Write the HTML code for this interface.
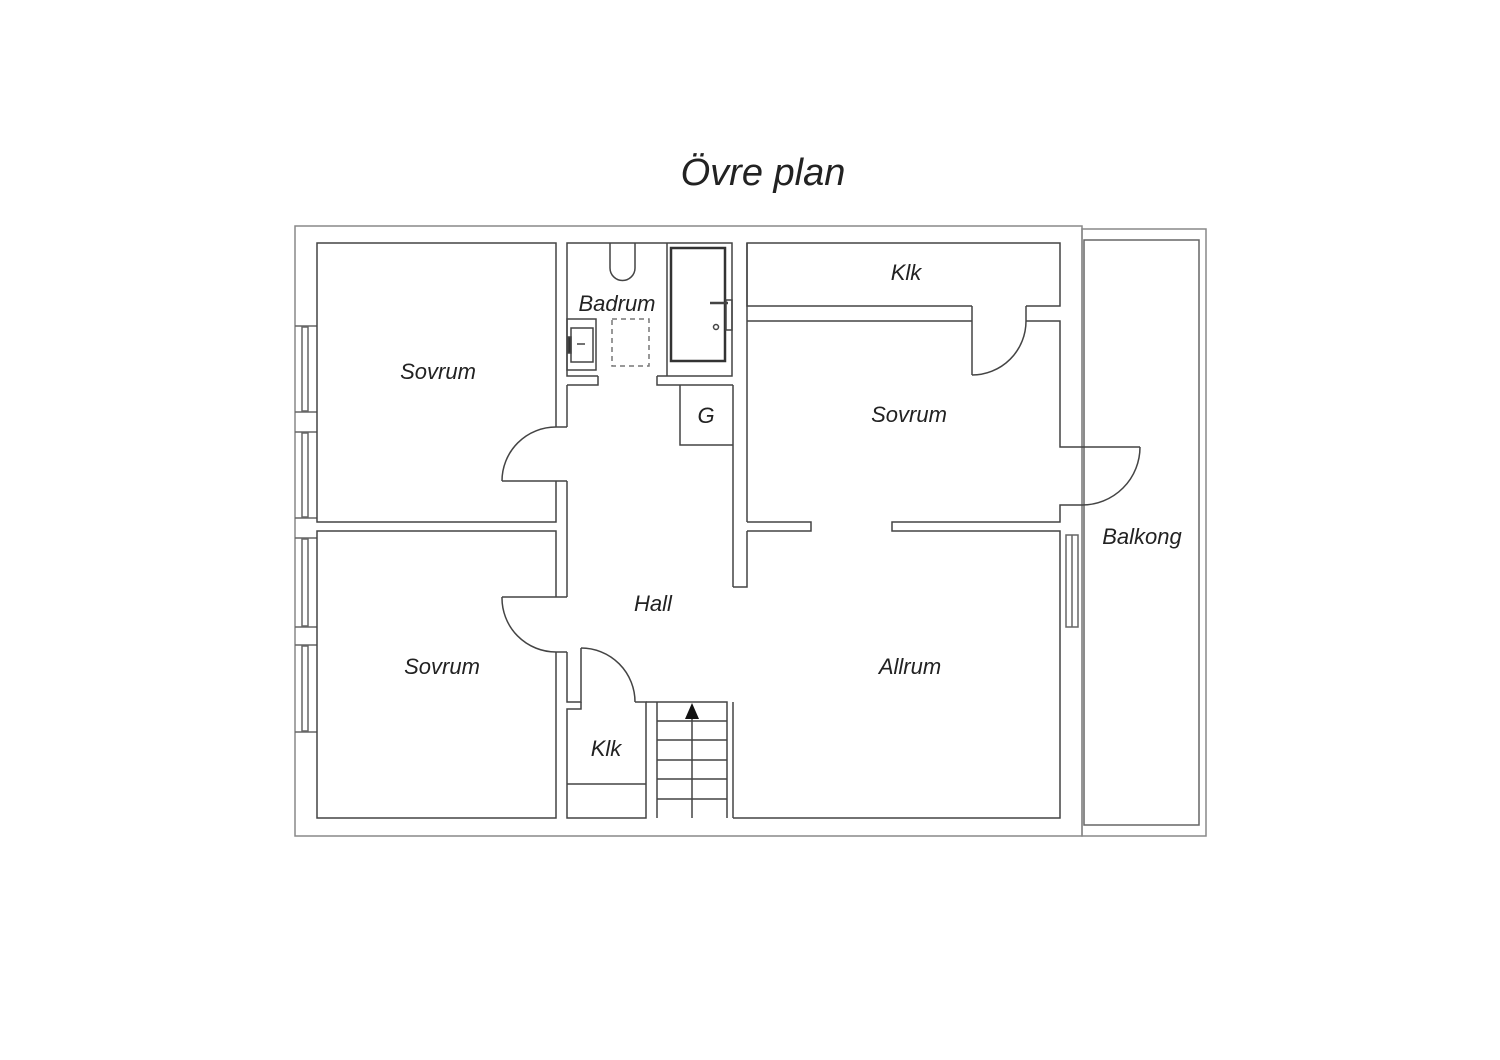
<!DOCTYPE html>
<html><head><meta charset="utf-8"><style>
html,body{margin:0;padding:0;background:#fff;}
svg{display:block;}
text{font-family:"Liberation Sans",sans-serif;font-style:italic;fill:#222;}
</style></head><body>
<svg width="1500" height="1060" viewBox="0 0 1500 1060" xmlns="http://www.w3.org/2000/svg">
<text x="763" y="185" font-size="38" text-anchor="middle">Övre plan</text>
<g fill="none" stroke="#444" stroke-width="1.5">
<!-- outer -->
<rect x="295" y="226" width="787" height="610" stroke="#888"/>
<rect x="1082" y="229" width="124" height="607" stroke="#888"/>
<rect x="1084" y="240" width="115" height="585" stroke="#666"/>
<!-- left windows -->
<g stroke="#666">
<line x1="295" y1="326" x2="317" y2="326"/><line x1="295" y1="412" x2="317" y2="412"/><rect x="302" y="327" width="6" height="84"/>
<line x1="295" y1="432" x2="317" y2="432"/><line x1="295" y1="518" x2="317" y2="518"/><rect x="302" y="433" width="6" height="84"/>
<line x1="295" y1="538" x2="317" y2="538"/><line x1="295" y1="627" x2="317" y2="627"/><rect x="302" y="539" width="6" height="87"/>
<line x1="295" y1="645" x2="317" y2="645"/><line x1="295" y1="732" x2="317" y2="732"/><rect x="302" y="646" width="6" height="85"/>
<rect x="1066" y="535" width="12" height="92"/><line x1="1072" y1="535" x2="1072" y2="627"/>
</g>
<!-- Sovrum TL -->
<polyline points="556,427 556,243 317,243 317,522 556,522 556,481"/>
<!-- Sovrum BL -->
<polyline points="556,597 556,531 317,531 317,818 556,818 556,652"/>
<!-- door jambs left -->
<line x1="556" y1="427" x2="567" y2="427"/><line x1="502" y1="481" x2="567" y2="481"/>
<path d="M502,481 A54,54 0 0 1 556,427"/>
<line x1="502" y1="597" x2="567" y2="597"/><line x1="556" y1="652" x2="567" y2="652"/>
<path d="M502,597 A54,54 0 0 0 556,652"/>
<!-- hall left wall -->
<line x1="567" y1="385" x2="567" y2="427"/>
<line x1="567" y1="481" x2="567" y2="597"/>
<polyline points="567,652 567,702 581,702 581,648"/>
<path d="M581,648 A54,54 0 0 1 635,702"/>
<!-- Klk small -->
<polyline points="635,702 646,702 646,818 567,818 567,709 581,709 581,702"/>
<line x1="567" y1="784" x2="646" y2="784"/>
<!-- stairs -->
<polyline points="646,702 727,702 727,818"/>
<line x1="657" y1="702" x2="657" y2="818"/>
<line x1="733" y1="702" x2="733" y2="818"/>
<line x1="657" y1="721" x2="727" y2="721"/><line x1="657" y1="740" x2="727" y2="740"/><line x1="657" y1="760" x2="727" y2="760"/><line x1="657" y1="779" x2="727" y2="779"/><line x1="657" y1="799" x2="727" y2="799"/>
<line x1="692" y1="708" x2="692" y2="818"/>
<!-- bathroom -->
<polyline points="598,376 567,376 567,243 732,243 732,376 657,376"/>
<polyline points="598,376 598,385 567,385"/>
<polyline points="657,376 657,385 733,385"/>
<line x1="667" y1="243" x2="667" y2="376"/>
<rect x="671" y="248" width="54" height="113" stroke-width="2.5" stroke="#333"/>
<path d="M610,243 V268 A12.5,12.5 0 0 0 635,268 V243"/>
<rect x="567" y="319" width="29" height="51"/>
<rect x="571" y="328" width="22" height="34"/>
<rect x="612" y="319" width="37" height="47" stroke-dasharray="5,4" stroke="#777"/>
<line x1="710" y1="303" x2="728" y2="303" stroke-width="2.5"/>
<rect x="726" y="300" width="6" height="30"/>
<circle cx="716" cy="327" r="2.5"/>
<line x1="577" y1="344" x2="585" y2="344"/>
<rect x="568" y="337" width="3" height="16" fill="#333"/>
<!-- G -->
<polyline points="680,385 680,445 733,445"/>
<!-- hall right wall -->
<line x1="733" y1="385" x2="733" y2="587"/>
<polyline points="733,587 747,587 747,531"/>
<line x1="747" y1="243" x2="747" y2="522"/>
<!-- Klk top -->
<polyline points="972,306 747,306 747,243 1060,243 1060,306 1026,306"/>
<polyline points="972,306 972,375"/>
<path d="M972,375 A54,54 0 0 0 1026,321"/>
<line x1="1026" y1="306" x2="1026" y2="321"/>
<!-- Sovrum right -->
<polyline points="972,321 747,321"/>
<polyline points="1026,321 1060,321 1060,447 1082,447"/>
<polyline points="747,522 811,522 811,531 747,531"/>
<polyline points="1082,505 1060,505 1060,522 892,522 892,531 1060,531 1060,818 733,818"/>
<line x1="1082" y1="447" x2="1140" y2="447"/>
<path d="M1140,447 A58,58 0 0 1 1082,505"/>
<line x1="556" y1="818" x2="556" y2="818"/>
</g>
<polygon points="692,703 685,719 699,719" fill="#111"/>
<g font-size="22">
<text x="438" y="379" text-anchor="middle">Sovrum</text>
<text x="442" y="674" text-anchor="middle">Sovrum</text>
<text x="617" y="311" text-anchor="middle">Badrum</text>
<text x="706" y="423" text-anchor="middle">G</text>
<text x="653" y="611" text-anchor="middle">Hall</text>
<text x="606" y="756" text-anchor="middle">Klk</text>
<text x="906" y="280" text-anchor="middle">Klk</text>
<text x="909" y="422" text-anchor="middle">Sovrum</text>
<text x="910" y="674" text-anchor="middle">Allrum</text>
<text x="1142" y="544" text-anchor="middle">Balkong</text>
</g>
</svg>
</body></html>
